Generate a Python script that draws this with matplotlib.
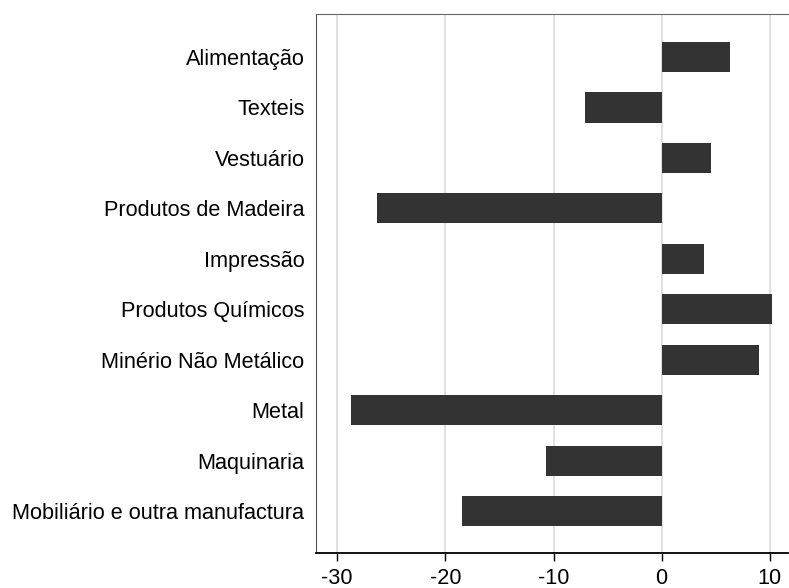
import matplotlib
matplotlib.use("Agg")
import matplotlib.pyplot as plt

categories = ["Alimentação", "Texteis", "Vestuário", "Produtos de Madeira", "Impressão",
              "Produtos Químicos", "Minério Não Metálico", "Metal", "Maquinaria",
              "Mobiliário e outra manufactura"]
values = [6.3, -7.1, 4.6, -26.3, 3.9, 10.2, 9.0, -28.7, -10.7, -18.5]
xticks = [-30, -20, -10, 0, 10]

plt.rcParams['font.family'] = ['Liberation Sans', 'DejaVu Sans']

fig = plt.figure(figsize=(7.89, 5.88), dpi=100)
ax = fig.add_axes([0.400, 0.0595, 0.599, 0.9167])
pos = list(range(len(categories)))
ax.barh(pos, values, height=0.6, color="#333333", zorder=3)
ax.set_yticks(pos)
ax.set_yticklabels(categories, fontsize=15.6)
ax.set_ylim(9.83, -0.85)
ax.set_xlim(-32.0, 11.7)
ax.set_xticks(xticks)
ax.set_xticklabels([str(t) for t in xticks], fontsize=15.6)
ax.grid(axis='x', color="#dddddd", linewidth=1.3, zorder=0)
ax.tick_params(axis='y', length=0, pad=8)
ax.tick_params(axis='x', length=6, width=1, color="black", pad=5)
ax.spines['right'].set_visible(False)
ax.spines['top'].set_color("#666666")
ax.spines['left'].set_color("#555555")
ax.spines['bottom'].set_color("black")
ax.spines['bottom'].set_linewidth(1.3)
fig.savefig("out.png", dpi=100)
